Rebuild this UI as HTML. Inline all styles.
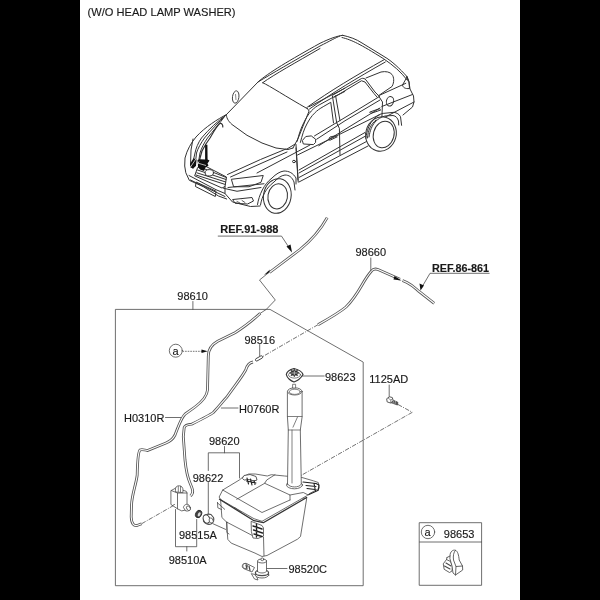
<!DOCTYPE html>
<html><head><meta charset="utf-8">
<style>
html,body{margin:0;padding:0;background:#000;width:600px;height:600px;overflow:hidden}
svg{display:block;position:absolute;left:0;top:0;will-change:transform}
text{font-family:"Liberation Sans",sans-serif;fill:#1a1a1a;stroke:#1a1a1a;stroke-width:0.15}
.l{fill:none;stroke:#4a4a4a;stroke-width:0.8;stroke-linejoin:round;stroke-linecap:round}
.h{fill:none;stroke:#222;stroke-width:0.75}
.d{fill:none;stroke:#444;stroke-width:0.75;stroke-dasharray:4.5 1.3 1 1.3}
</style></head><body>
<svg width="600" height="600" viewBox="0 0 600 600">
<rect x="0" y="0" width="600" height="600" fill="#000"/>
<rect x="80" y="0" width="440" height="600" fill="#fff"/>

<!-- title -->
<text x="87.6" y="16.2" font-size="11.1">(W/O HEAD LAMP WASHER)</text>

<!-- labels -->
<g font-size="11">
<text x="177.3" y="299.7">98610</text>
<text x="355.5" y="255.5">98660</text>
<text x="244.5" y="343.5">98516</text>
<text x="325" y="381">98623</text>
<text x="369.3" y="382.8">1125AD</text>
<text x="124" y="422.2">H0310R</text>
<text x="239" y="412.5">H0760R</text>
<text x="209" y="445.2">98620</text>
<text x="192.7" y="481.6">98622</text>
<text x="179" y="538.7">98515A</text>
<text x="168.7" y="563.5">98510A</text>
<text x="288.5" y="573">98520C</text>
<text x="443.8" y="538">98653</text>
</g>
<g font-size="11" font-weight="bold">
<text x="220.3" y="232.8">REF.91-988</text>
<text x="432" y="271.9" font-size="10.8">REF.86-861</text>
</g>



<!-- car -->
<g class="l" style="stroke-width:1;stroke:#333">
<!-- roof -->
<path d="M226.5 114.5 L258 82 C268 73, 290 60, 320 43.3 C330 38.5, 337 36, 342.7 35.3"/>
<path d="M258 82 C272 73.5, 292 62, 320 46 C330 41, 336 37.5, 340 36"/>
<path d="M262.7 82.7 C275 74, 295 63, 320 48.5"/>
<path d="M342.7 35.3 C350 37, 356 39, 362 43 L384 56.5 C392 61, 400 69, 407 76.6 L408.1 80.9"/>
<path d="M342 37.5 C352 40, 360 44, 383.2 58.5 C393 65, 401 72, 407 79.8"/>
<path d="M262.7 82.7 C270 86, 285 96, 307 108.5"/>
<path d="M307.5 107 C330 91, 355 76, 384 59.75"/>
<path d="M309.5 109 C332 93, 357 78, 385.3 62"/>
<!-- windshield -->
<path d="M306.9 107.75 L309.1 111 L304.75 121.8 L298.25 138.1 L293 148"/>
<path d="M226.5 114.5 C226 117, 228 121, 232 124.5 L247 135.3 L262 143 L276 148 L288 149.5 L293 148"/>
<!-- A-pillar / front door window -->
<path d="M297.2 141.3 C299 134, 301 128, 303.7 122.9 C306 118, 308.5 114, 311.25 111 C314 108, 317 106, 319.9 104.5 L331.8 98 L344.8 91.5"/>
<path d="M300.4 142.4 C302 136, 304 129, 306.9 124 C309 120, 311.5 116, 314.5 113.2 C317 110.5, 320 108.5, 323.2 106.7 L330.75 102.3 L333.5 122.9"/>
<path d="M309.1 106.7 L344.8 88.25"/>
<path d="M332.4 95.8 L336.7 122.9 M335.6 95.8 L340 120.75"/>
<path d="M336.7 122.9 L339.4 128.3 L340 155"/>
<!-- rear door window -->
<path d="M333 95 L361.5 78.5 C363 78, 365 78.5, 366 80 L375 92 L378 95"/>
<path d="M334.5 97 L361.5 80.75 L365 82 L374 93.5 L377 97"/>
<path d="M378 95 L382.5 102 L381.8 120"/>
<!-- quarter window -->
<path d="M366 78 L381 72 C386 71, 390 72, 392 74.5 C394 77, 394.5 82, 392 86.5 L379.5 95"/>
<!-- belt & side lines -->
<path d="M314.5 135.9 L345 117.5 L379.5 96.5"/>
<path d="M316.7 139.2 L345 120.75 L380 100"/>
<path d="M318.8 145.7 L345 129.4 L380 108"/>
<path d="M297.5 155 L380 114.5"/>
<path d="M299 170 L365 132.5 L366.5 135.5 L299 173"/>
<path d="M299 177.5 L366.5 141.5"/>
<path d="M299 182 L368 146"/>
<path d="M296 144.5 L298.2 182"/>
<!-- mirror -->
<path d="M302.6 140.25 L305.8 136.5 L311.25 135.9 L315.6 139.2 L315.6 142.4 L313.4 144.6 L303.7 144 Z" style="fill:#fff"/>
<!-- handles -->
<path d="M328.6 139.5 L330 137 L336 135.6 L337.25 136.8 L330.5 140 Z"/>
<path d="M370 112 L379.3 108.7 L380.7 110 L371.3 113.3 Z"/>
<!-- tail & rear -->
<path d="M407 77 L402.5 85 C403 87.5, 405 89, 409.5 88.5 L409 82 Z"/>
<path d="M406.5 76.5 L409 82 L410 89 L413.5 96 L414 102 L412.5 107 L403 115"/>
<path d="M379.5 95.3 L405.8 83.3"/>
<path d="M381.8 106.5 L412.5 94.5"/>
<path d="M382.5 118.5 L414 102"/>
<ellipse cx="390" cy="101.3" rx="3.6" ry="4.8" transform="rotate(15 390 101.3)"/>
<!-- rear wheel -->
<ellipse cx="381" cy="134" rx="15.2" ry="17.3" transform="rotate(15 381 134)" style="fill:#fff"/>
<ellipse cx="383.7" cy="134.5" rx="10.3" ry="13.5" transform="rotate(15 383.7 134.5)"/>
<path d="M367.5 138 C368 130, 371 124, 376 120"/>
<path d="M365.8 138.3 C367 130, 369 125, 372.3 121 C376 116, 380 114, 383.2 113.4 L394 112.3 C397 113, 399 114, 400.5 116.7 L401.6 125.3"/>
<path d="M369 137 C370 130, 372 126, 375 122 C378 119, 381 117, 385 116 L393 115.5 C396 116, 397.5 118, 398.5 121 L398.7 125"/>
<!-- hood -->
<path d="M226.5 114.5 C218 119, 205 127, 196 137 C191 143, 187 150, 185 158 L184.7 166 L185.8 172.7 L189.3 180.3 L203.3 186.7 L218.5 196 L226.7 199"/>
<path d="M226 115 C218 121, 209 129, 201.5 138 C198 143, 196 148, 195 153 L193 162"/>
<path d="M225.5 115.5 C219 122, 211 130, 204.5 138 C201 143, 198 148, 196.5 153 L195.5 162"/>
<path d="M225 116 C220 123, 213 131, 207.5 138 C204 143, 201.5 148, 200 153 L198.5 162"/>
<path style="stroke-width:1.2" d="M222.8 127 C223 124.5, 221.5 122.8, 219.8 123.5 C217 125.5, 214 131, 210 138 C207 142, 204 147, 202 151 L199.5 160"/>
<path d="M193 139 L191 150 L190.5 165"/>
<path d="M227.5 174.5 L260.5 159.5 L286 149"/>
<path d="M230.5 177 L262 163 L287 152"/>
<path d="M287 149 L295.2 144"/>
<!-- headlight -->
<path d="M231.75 179.25 L263.25 175.5 L261 182.25 L249 186.75 L234 186.75 Z"/>
<!-- grille -->
<path d="M198 167.5 L205.7 166.3 L226.5 177 L225 186.5 L222 188 L195 176 Z"/>
<path d="M197.5 170 L226 179.5 M196.8 172.8 L225.7 182 M196 175 L225.3 184.5 M201 167.5 L226.3 177.5"/>
<ellipse cx="209.3" cy="172.8" rx="4.2" ry="3.2" style="fill:#fff"/>
<!-- bumper -->
<path d="M189 175.5 L216 189.7 L225 193.5"/>
<path d="M190.5 180 L225 196.5"/>
<path d="M196.5 182.2 L216 191.2 L215.3 196.5 L195.8 186.7 Z"/>
<path d="M225 186.5 L225 193.5 L232.5 202 L250.5 206.5 L260 206"/>
<path d="M228 187.5 L264 183.75"/>
<path d="M223.5 188.25 L237 191.25 L261 187.5"/>
<path d="M233 199.5 L252 197.5 L253.5 201 L247.5 204 L235.5 203.3 Z"/>
<path d="M237 201.5 L240 203 M242 200.5 L245 202.5" style="stroke-width:0.8"/>
<!-- front wheel -->
<ellipse cx="277.3" cy="196" rx="13.8" ry="17.4" transform="rotate(10 277.3 196)" style="fill:#fff"/>
<ellipse cx="277.7" cy="196.4" rx="9.75" ry="12.6" transform="rotate(10 277.7 196.4)"/>
<path d="M257.5 204.5 C259 195, 264 184, 272 178 C276 174, 280 171.5, 284 171 C289 171, 293 173, 296 178 L296 184"/>
<path d="M260.5 205 C262 196, 266 188, 274 182 C278 178, 281 175.5, 285 175 C289 175, 292 177, 294 182 L295 190"/>
<!-- fender -->
<path d="M296 148 L298 180"/>
<path d="M257 173 L310 145"/>
<ellipse cx="294" cy="161.5" rx="1.5" ry="1.2"/>
</g>
<!-- mirror on hood -->
<ellipse cx="235.7" cy="97" rx="3.2" ry="6.2" transform="rotate(8 235.7 97)" fill="#fff" stroke="#3a3a3a" stroke-width="0.9"/><path d="M235.5 94 L236 100" stroke="#3a3a3a" stroke-width="0.6"/>
<!-- black arrow on car -->
<path d="M205.1 144.7 L207.4 144.7 L207.6 159.5 L209.5 160.5 L207.5 163.5 L208.5 165.5 L205.5 167.5 L204 171 L200 169.5 L198 167 L197.5 160 L200 159.3 L205.1 159.5 Z" fill="#111"/>
<path d="M190 164 L193.5 158.2 L196.5 159.5 L196 166 L193 168.5 L190.5 167.5 Z" fill="#111"/>
<path d="M193 168.5 L192 166" stroke="#111" stroke-width="1"/>
<path d="M190.5 167 L196 158.8 M194.5 169.5 L199 161.5 M197.5 163 L206 165.5" stroke="#fff" stroke-width="0.7" fill="none"/>
<!-- hoses -->
<defs>
<path id="hA" d="M327.2 217.7 C321 229, 313 239, 300 249.5 L269.5 272.5"/>
<path id="hB" d="M434.2 303.3 L418.3 290.8 C414 287, 412 285, 407 282.5 L402.5 280.5 M400 279.2 L378 269.5 C375 268.5, 373 269, 371.5 271 C368 275, 366 278, 362 285 C358 292, 353 300, 346 307 C340 312, 330 318, 318 324.7"/>
<path id="hC" d="M260.3 313.3 C254 319, 246 326, 235 332.7 L217.7 341.3 C211 345, 208.3 349, 208.3 356 L207.5 390 C207 396, 203 401, 195 407 L185 414.2 C181 418, 179 425, 175 435 C173 439, 171 441, 166 443 L147.5 450.5 C144 450, 142 449, 140 450 C138 452, 137.5 460, 137.2 475 C136 485, 132 494, 131.5 505 L131.2 517 C131.5 524, 134 526, 137 525.5 L141.7 523.7"/>
<path id="hD" d="M253 362 C250 362.5, 247.5 364, 245.7 370 C242 377, 236 384, 226.7 397.3 C223 401, 221 404, 213.3 412.5 C210 415, 208 416, 191.7 424.2 C188 424.5, 185 425, 184.2 427.5 L183.3 436.7 L185 460 C186 470, 187 476, 190 483 C193 490, 194 493, 190.5 496"/>
</defs>
<g fill="none" stroke="#555" stroke-width="2.8" stroke-linecap="butt"><use href="#hA"/><use href="#hB"/><use href="#hC"/><use href="#hD"/></g>
<g fill="none" stroke="#fff" stroke-width="1.1" stroke-linecap="butt"><use href="#hA"/><use href="#hB"/><use href="#hC"/><use href="#hD"/></g>

<!-- leaders & zigzag -->
<path class="l" d="M218.2 236.1 H281.5 L290 249"/>
<path d="M292 252.5 L286.5 246.5 L290.5 244.5 Z" fill="#111"/>
<path class="l" d="M269.5 272 L259.5 280 L275.3 300 L266.3 309.4 L260.3 313.3"/>
<path d="M264 275 L270 269.5 L268.5 273 Z" fill="#111"/>
<path class="l" d="M489.2 273.3 H430 L422 287"/>
<path d="M420.5 290.5 L419.5 283.5 L424 285.5 Z" fill="#111"/>
<path class="l" d="M370.8 258 V270"/>
<path d="M401.5 280.5 L394.5 276 L393.5 279.5 Z" fill="#111"/>
<path class="d" d="M318 324.7 L262 357"/>
<path class="l" d="M259.7 344.5 V356"/>
<path d="M255.8 358.8 L261 355.8 C262.5 355.5, 263.2 357, 262.3 358 L257 361 C255.5 361.5, 255 359.8, 255.8 358.8 Z" fill="#fff" stroke="#333" stroke-width="0.9"/>
<path class="d" d="M182.5 351.3 H203" style="stroke-dasharray:1.6 1"/>
<path d="M207.7 351.3 L201.5 349.5 L201.5 353 Z" fill="#111"/>
<path class="l" d="M165.5 417.5 H180.8"/>
<path class="l" d="M221.3 408 H238"/>
<path class="l" d="M224.5 446.5 V452.8 M208.3 470.5 V452.8 H239.5 V478 M208.3 482.5 V514"/>
<path class="l" d="M175.5 509.5 V546.7 H196.7 V519.5 M186.8 546.7 V551"/>
<path class="d" d="M141.7 523.7 L173.2 505.7"/>
<path class="l" d="M302.5 376 H324.2"/>
<path class="l" d="M389.2 385 V397"/>
<path class="d" d="M398 404.5 L412.3 412.3 L301 475.5"/>
<path class="l" d="M266.5 568.5 H287"/>


<!-- tank -->
<g class="l" fill="#fff" style="fill:#fff">
<!-- body -->
<path d="M220.6 500 L221.9 517.5 L226.5 522 L227.8 539.4 L231.2 543.1 L255 553.1 L262 556.5 L267 555.5 L297.5 539.2 L300.5 536.5 L306.7 498.3 L290 497 Z"/>
<path style="fill:none" d="M226.5 522 L252.5 535.6 M263.5 537 L264 555.8"/>
<path style="fill:none" d="M217.5 502.5 L217.8 507.8 L221.5 509.5 M226.9 522 V532.5 L229 534"/>
<!-- lid -->
<path d="M219.3 496.7 L222.7 490 L239.3 480 L243.3 476.7 L248.7 474 L255.3 474 L267.3 476 L271.3 474.7 L284.7 476 L302 477.5 L313.3 480.8 L318.3 482.5 L319.2 488.3 L310 493.3 L306.7 495.8 L262 521.3 L254 518.7 L221.3 500 Z"/>
<path style="fill:none;stroke-width:1.3;stroke:#333" d="M219.5 499.3 L254 520.7 L263.3 522.7 L306.7 497.5"/>
<path style="fill:none" d="M236.7 499.3 L264.7 483.3 L266.7 480 L275 474.7 M264.7 483.3 L290 495 L290 500 M290 495 L303.3 492.5 L308.3 495"/>
<path style="fill:none" d="M222.7 490 L262 512.5 L290 500"/>
<!-- tabs -->
<path style="fill:#fff;stroke-width:0.9" d="M242.5 478 L244 475.5 L250 474.5 L256 476.5 L257 480 L254 481 L249 479.5 L244.5 480 Z"/>
<path style="fill:none;stroke-width:1.1;stroke:#222" d="M247 478 L248.5 484 M250.5 479 L252 485 M254 480.5 L255 484.5 M246.5 481 L256 483"/>
<path style="fill:none;stroke-width:1.1;stroke:#222" d="M303 482 L316 483.5 L319 485 L318.3 490.3 L309 494.5 M306 485.5 L316 486.5 M307 488.5 L315 489.5 M314 483.5 L315.5 491"/>
<path style="fill:#fff" d="M251.5 521.5 L262 525.5 L263.5 528 L263.5 536 L258 538.5 L253 538 L251.5 532 Z"/>
<path style="fill:none;stroke-width:1.4;stroke:#222" d="M253 526 L262 529 M253.5 530 L262.5 533 M254 534 L262 536.5 M256.5 524 L256.5 537"/>
<path style="fill:none" d="M234.5 507.5 L241 512 M217.3 502.7 L224.7 509.3"/>
<!-- neck -->
<ellipse cx="294.5" cy="485" rx="8" ry="3.8"/>
<path d="M287.5 484 L288.3 430 L287.4 416.5 L287.4 391.4 L302.1 391.4 L302.1 417 L300.3 430 L301.3 484 C299.5 488, 289.5 488, 287.5 484 Z"/>
<ellipse cx="294.8" cy="391.4" rx="7.3" ry="3.6"/><ellipse cx="294.8" cy="391.8" rx="5.5" ry="2.6" style="stroke-width:0.7"/>
<path style="fill:none;stroke-width:0.7" d="M297.5 417 L293 427.2 M292 430 V483 M288.3 430 H300.3 M287.4 416.5 H302"/>
</g>

<!-- cap 98623 -->
<g class="l" style="fill:#fff">
<path style="stroke-width:1.2;stroke:#333" d="M286.3 374.5 C287 371, 290 369.5, 294 368.5 C298 369.5, 302 371, 303 374.5 C301 378, 297 381, 294 382 C291 381, 287 378, 286.3 374.5 Z"/>
<ellipse cx="294.5" cy="374.8" rx="6" ry="3.3" style="stroke-width:0.7"/>
<path style="fill:#333;stroke:#222;stroke-width:0.5" d="M294.30 369.16 L295.37 370.93 L297.69 370.28 L296.89 372.14 L299.10 373.00 L296.89 373.86 L297.69 375.72 L295.37 375.07 L294.30 376.84 L293.23 375.07 L290.91 375.72 L291.71 373.86 L289.50 373.00 L291.71 372.14 L290.91 370.28 L293.23 370.93 Z"/>
<path style="fill:none;stroke:#ccc;stroke-width:0.8" d="M292 373 L296.6 373 M294.3 371.2 V374.8"/>
<path style="fill:#fff;stroke-width:0.7" d="M293 384.3 H295.6 V388 H293 Z"/>
</g>
<!-- grommet 98622 -->
<g class="l" style="fill:#fff">
<path style="stroke-width:1.1" d="M203.5 517 C204.5 514.5, 208 513.5, 211 514.5 L213.5 517.5 C214.5 520, 213.5 523, 211 524 C208 525, 204.5 523.5, 203.5 521 Z"/>
<ellipse cx="206.5" cy="519" rx="3.2" ry="4.3" transform="rotate(-20 206.5 519)" style="stroke-width:1.1"/>
<ellipse cx="211.2" cy="520.5" rx="2" ry="2.6" transform="rotate(-20 211.2 520.5)" style="stroke-width:0.7"/>
<path style="fill:none" d="M213 523.75 L225.6 529.4"/>
</g>

<!-- pump 98510A -->
<g class="l" style="fill:#fff">
<path d="M171.25 490.5 L175.8 488 L186.25 491.3 L187 493 L187 509.7 L181.7 510.9 L177.5 508.8 L171.25 504.7 Z"/>
<path style="fill:none" d="M171.25 490.5 L177.5 493 L187 493 M177.5 493 V508.8"/>
<path d="M175.4 490 C175 487, 177 485.5, 179.5 485.8 C181.5 486, 183 487.5, 183 490 L182.9 492.6 L176 492 Z"/>
<path style="fill:none;stroke-width:0.7" d="M178.3 486.5 V491.5 M180.5 486.3 V492"/>
<path d="M183.5 507 C184 504.5, 187 503.5, 189 505 L190.5 508 C190.5 510.5, 188 511.5, 186 511 Z"/>
<ellipse cx="188.5" cy="508.2" rx="1.8" ry="2.5" transform="rotate(-30 188.5 508.2)"/>
<path style="fill:none;stroke-width:0.8" d="M172.5 505.5 L174.5 504.5"/>
</g>
<ellipse cx="198.6" cy="514" rx="2.9" ry="3.9" transform="rotate(25 198.6 514)" fill="#444" stroke="#222" stroke-width="0.8"/>
<ellipse cx="199.2" cy="514.3" rx="1.3" ry="2.2" transform="rotate(25 199.2 514.3)" fill="#ddd"/>
<!-- pump 98520C -->
<g class="l" style="fill:#fff">
<path d="M244.5 563.5 C242 564, 241.5 567, 243.5 568.5 L252 572 L254.5 567.5 L246.5 563.5 Z"/>
<ellipse cx="245" cy="566" rx="2.3" ry="2.6" style="fill:#fff"/>
<path style="fill:none;stroke-width:1.2" d="M246 565 L247 569 M249 566 L250 570.5"/>
<path d="M251.5 574 L254.5 579 L258 580 L256 575 Z"/>
<ellipse cx="262" cy="575" rx="6.8" ry="3"/>
<ellipse cx="262" cy="572.8" rx="6.6" ry="2.8" style="stroke-width:1.2"/>
<path d="M257.5 571.5 V561 L266.5 561 V571.5 C264 573.5, 260 573.5, 257.5 571.5 Z"/>
<ellipse cx="262" cy="561" rx="4.5" ry="2"/>
<circle cx="262.3" cy="559.3" r="1.4"/>
</g>
<!-- bolt 1125AD -->
<g class="l" style="fill:#fff;stroke-width:0.9">
<path d="M391.5 399.5 L397.8 402.3 L397.5 405 L390.5 402.5 Z" style="fill:#555"/>
<path style="fill:none;stroke:#ddd;stroke-width:0.5" d="M393.5 400.5 L393 403.5 M395.5 401.3 L395 404.3"/>
<path d="M387 398.5 L389.5 396.8 L392.3 397.5 L393.2 400.8 L390.5 403 L387.5 402 Z"/>
<path style="fill:none;stroke-width:0.6" d="M388.5 398.5 L391 400 L390.5 402.5 M391 400 L392.5 398.5"/>
</g>
<!-- clip 98653 -->
<g class="l" style="fill:#fff;stroke-width:0.85">
<path d="M443.5 563.5 L446.5 559.5 L450.5 561.5 L452.5 566 L452 571 L449.5 572.5 L444.5 569.5 Z"/>
<path style="fill:none;stroke-width:1.1" d="M444.5 566 L450 569 M446 563 L451 566"/>
<path d="M450 555.5 C450 551.5, 453 549.5, 455.5 550.3 C457.7 551.2, 458.7 555, 459.2 560 L462.5 566 L462.7 570 L455.5 575 L453 573 L452 566 L450 559 Z"/>
<path style="fill:none" d="M455.5 550.3 C453.5 552, 453 556, 453.5 560 L456 566.5 L462.5 566 M456 566.5 L455.5 575"/>
<path style="fill:none" d="M447 557.5 L450 556 M446.5 559.5 L447 557.5"/>
</g>

<!-- main box -->
<path class="l" d="M115.4 585.3 V309.4 H270 L363.2 362.1 V585.3 Z"/>
<path class="l" d="M192.9 301.5 V309.4"/>

<!-- 98653 box -->
<path class="l" d="M419.6 522.7 H481.6 V585.3 H419.6 Z M419.6 542 H481.6"/>
<circle class="l" cx="428" cy="532" r="6.7"/>
<text x="424.6" y="535.8" font-size="11">a</text>

<!-- circle a on hose -->
<circle class="l" cx="175.8" cy="350.7" r="6.5"/>
<text x="172.4" y="354.5" font-size="11">a</text>
</svg>
</body></html>
